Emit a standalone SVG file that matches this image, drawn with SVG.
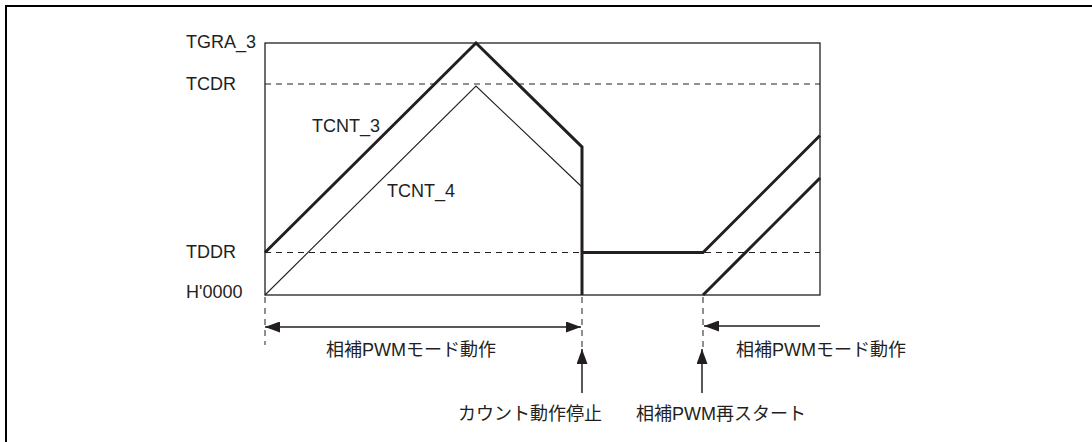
<svg xmlns="http://www.w3.org/2000/svg" width="1092" height="442" viewBox="0 0 1092 442">
<style>
text{font-family:"Liberation Sans","Noto Sans CJK JP",sans-serif;font-size:18px;fill:#231f20}
.box{fill:none;stroke:#231f20;stroke-width:1.3}
.dash{fill:none;stroke:#231f20;stroke-width:1;stroke-dasharray:6,5}
.thick{fill:none;stroke:#231f20;stroke-width:3;stroke-linejoin:miter}
.thin{fill:none;stroke:#231f20;stroke-width:1.1}
.arr{fill:none;stroke:#231f20;stroke-width:1.5}
</style>
<defs>
<marker id="ah" markerWidth="15" markerHeight="11" refX="15" refY="5.5" orient="auto-start-reverse" markerUnits="userSpaceOnUse">
<path d="M0,0 L15,5.5 L0,11 Z" fill="#231f20"/>
</marker>
</defs>
<rect width="1092" height="442" fill="#fff"/>
<path d="M6,442 V6 H1092" fill="none" stroke="#000" stroke-width="2"/>
<g id="plot">
<rect class="box" x="265" y="43" width="555" height="252"/>
<line class="dash" x1="265" y1="84" x2="820" y2="84"/>
<line class="dash" x1="265" y1="252.5" x2="820" y2="252.5"/>
</g>
<g id="axis-labels">
<text x="186" y="48">TGRA_3</text>
<text x="186" y="90">TCDR</text>
<text x="186" y="258">TDDR</text>
<text x="186" y="298">H'0000</text>
</g>
<g id="tcnt3">
<polyline class="thick" points="265,252.5 476,43 582,147 582,295"/>
<polyline class="thick" points="582,252.5 703,252.5 820,135.5"/>
<text x="312" y="132">TCNT_3</text>
</g>
<g id="tcnt4">
<polyline class="thin" points="265,295 476,86 582,187"/>
<line class="thick" x1="703" y1="295" x2="820" y2="178"/>
<text x="387" y="197">TCNT_4</text>
</g>
<g id="connectors">
<line class="dash" x1="265" y1="297" x2="265" y2="345"/>
<line class="dash" x1="582" y1="297" x2="582" y2="352"/>
<line class="dash" x1="703" y1="297" x2="703" y2="352"/>
<line class="arr" x1="265" y1="327" x2="581" y2="327" marker-start="url(#ah)" marker-end="url(#ah)"/>
<line class="arr" x1="820" y1="326" x2="704" y2="326" marker-end="url(#ah)"/>
<line class="arr" x1="582" y1="393" x2="582" y2="349" marker-end="url(#ah)"/>
<line class="arr" x1="702" y1="393" x2="702" y2="349" marker-end="url(#ah)"/>
</g>
<g id="labels">
<text x="326" y="356">相補PWMモード動作</text>
<text x="736" y="356">相補PWMモード動作</text>
<text x="458" y="420">カウント動作停止</text>
<text x="636" y="420">相補PWM再スタート</text>
</g>
</svg>
